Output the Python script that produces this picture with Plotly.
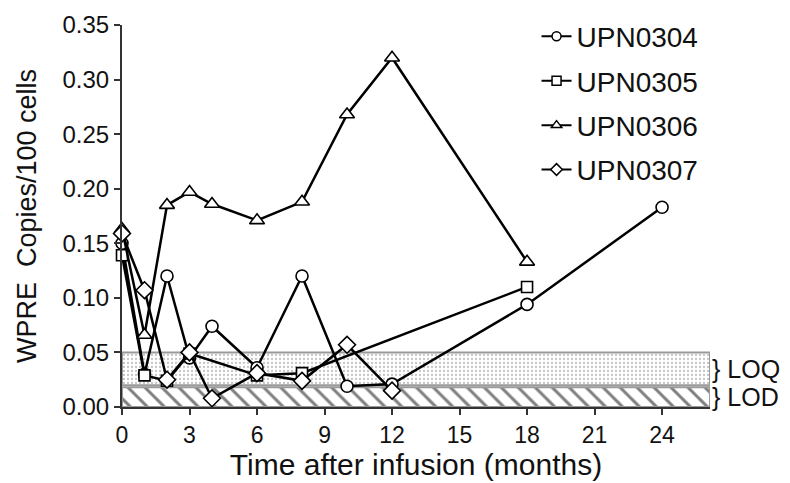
import plotly.graph_objects as go

# ---- data ----
m0304 = [0, 1, 2, 3, 4, 6, 8, 10, 12, 18, 24]
v0304 = [0.150, 0.030, 0.120, 0.045, 0.074, 0.036, 0.120, 0.019, 0.021, 0.094, 0.183]

m0305 = [0, 1, 2, 3, 6, 8, 18]
v0305 = [0.139, 0.029, 0.024, 0.049, 0.029, 0.031, 0.110]

m0306 = [0, 1, 2, 3, 4, 6, 8, 10, 12, 18]
v0306 = [0.163, 0.066, 0.185, 0.197, 0.186, 0.171, 0.188, 0.268, 0.320, 0.133]

m0307 = [0, 1, 2, 3, 4, 6, 8, 10, 12]
v0307 = [0.159, 0.107, 0.025, 0.050, 0.008, 0.031, 0.024, 0.057, 0.015]

series = [
    ("UPN0304", m0304, v0304, "circle"),
    ("UPN0305", m0305, v0305, "square"),
    ("UPN0306", m0306, v0306, "triangle-up"),
    ("UPN0307", m0307, v0307, "diamond"),
]

loq = [0.02, 0.05]
lod = [0.0, 0.018]
x_max = 26.13
x_ticks = [0, 3, 6, 9, 12, 15, 18, 21, 24]
y_ticks = [0, 0.05, 0.10, 0.15, 0.20, 0.25, 0.30, 0.35]

FONT = "Liberation Sans, Arial, sans-serif"

fig = go.Figure()

# LOQ band (dotted)
fig.add_trace(go.Scatter(
    x=[0, x_max, x_max, 0, 0], y=[loq[0], loq[0], loq[1], loq[1], loq[0]],
    mode="lines", fill="toself", line=dict(color="#9a9a9a", width=2),
    fillcolor="white",
    fillpattern=dict(shape=".", size=4, solidity=0.25, fgcolor="#8a8a8a", bgcolor="white"),
    showlegend=False, hoverinfo="skip"))

# LOD band (hatched)
fig.add_trace(go.Scatter(
    x=[0, x_max, x_max, 0, 0], y=[lod[0], lod[0], lod[1], lod[1], lod[0]],
    mode="lines", fill="toself", line=dict(color="#9a9a9a", width=2),
    fillcolor="white",
    fillpattern=dict(shape="\\", size=12, solidity=0.25, fgcolor="black", bgcolor="white"),
    showlegend=False, hoverinfo="skip"))

sizes = {"circle": 12, "square": 11, "triangle-up": 13, "diamond": 13}
for name, xs, ys, sym in series:
    fig.add_trace(go.Scatter(
        x=xs, y=ys, name=name, mode="lines+markers",
        line=dict(color="black", width=2.5),
        marker=dict(symbol=sym, size=sizes[sym], color="white",
                    line=dict(color="black", width=1.6)),
        cliponaxis=False, legendgroup=name, showlegend=False))

# legend entries with smaller symbols, as in the reference
for name, xs, ys, sym in series:
    fig.add_trace(go.Scatter(
        x=[None], y=[None], name=name, mode="lines+markers",
        line=dict(color="black", width=2),
        marker=dict(symbol=sym, size=9, color="white",
                    line=dict(color="black", width=1.5)),
        legendgroup=name, showlegend=True))

fig.update_layout(
    width=790, height=483,
    margin=dict(l=122, r=80, t=15, b=76),
    paper_bgcolor="white", plot_bgcolor="white",
    font=dict(family=FONT, color="#111"),
    showlegend=True,
    legend=dict(x=0.705, y=1.035, xanchor="left", yanchor="top",
                font=dict(size=28, family=FONT, color="#111"),
                bgcolor="rgba(0,0,0,0)", traceorder="grouped",
                tracegroupgap=5, itemwidth=30),
    xaxis=dict(range=[0, x_max], tickvals=x_ticks, ticks="outside", ticklen=6,
               tickwidth=2, tickcolor="#333", showline=True, linecolor="#333",
               linewidth=2, showgrid=False, zeroline=False, automargin=False,
               tickfont=dict(size=23, family=FONT, color="#111"),
               title=dict(text="Time after infusion (months)",
                          font=dict(size=30, family=FONT, color="#111"), standoff=4)),
    yaxis=dict(range=[0, 0.35], tickvals=y_ticks, tickformat=".2f", ticks="outside",
               ticklen=6, tickwidth=2, tickcolor="#333", showline=True,
               linecolor="#333", linewidth=2, showgrid=False, zeroline=False,
               automargin=False,
               tickfont=dict(size=24, family=FONT, color="#111"),
               title=dict(text="WPRE\u00a0\u00a0Copies/100 cells",
                          font=dict(size=27, family=FONT, color="#111"), standoff=18)),
)

fig.add_annotation(x=1.0, y=sum(loq) / 2, xref="paper", yref="y", xanchor="left",
                   text="} LOQ", showarrow=False, xshift=0,
                   font=dict(size=25, family=FONT, color="#111"))
fig.add_annotation(x=1.0, y=sum(lod) / 2, xref="paper", yref="y", xanchor="left",
                   text="} LOD", showarrow=False, xshift=0,
                   font=dict(size=25, family=FONT, color="#111"))

fig.write_html("out.html", config={"displayModeBar": False},
               post_script="document.body.style.margin='0';")
